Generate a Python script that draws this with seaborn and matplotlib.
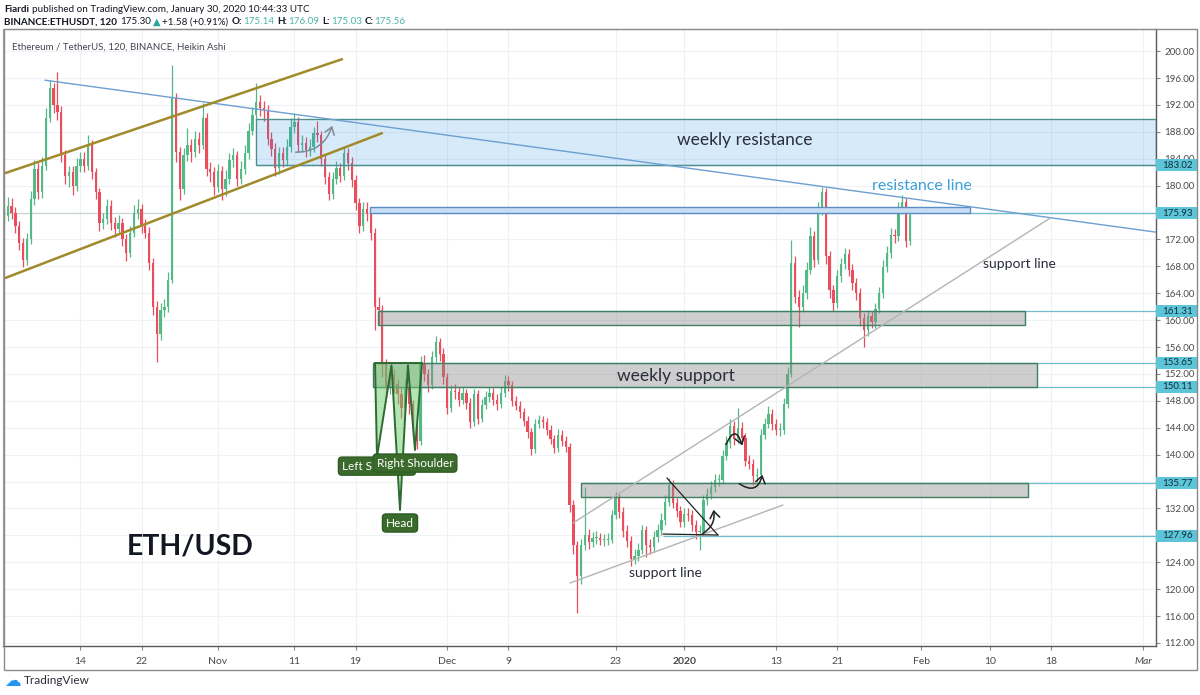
import numpy as np
import pandas as pd
import seaborn as sns
import matplotlib
matplotlib.use("Agg")
import matplotlib.pyplot as plt
import matplotlib.dates as mdates
from matplotlib.patches import Rectangle, Polygon, FancyArrowPatch

# Heikin Ashi closes / highs / lows (one candle per 12 h from Oct 4 2019)
close = [
    175.5, 177, 176, 174, 171.5, 169, 172, 178, 182.5, 179,
    183, 190, 194.5, 192, 191, 184.5, 181.5, 182, 180, 183,
    184, 183, 186, 182, 179, 174.5, 175, 177, 174.5, 173.5,
    174.5, 172, 170, 173, 176, 176.5, 174, 173, 168.5, 162,
    158, 161.5, 162, 166, 193, 185, 179.5, 184.5, 186, 185,
    187, 186, 190, 182.5, 182, 179.8, 182.2, 179.5, 181, 183.8,
    184.5, 181, 182.5, 184.8, 188.2, 190.5, 192.5, 191.5, 191.3, 187,
    185.5, 182.6, 184.8, 183.8, 185.8, 188.8, 189.5, 186, 186.4, 185.3,
    185.8, 187.8, 187.5, 184, 181.3, 178.7, 181, 182.6, 181.5, 184.8,
    183.4, 180.8, 177.4, 174, 176.6, 175.8, 173, 162, 161.5, 153.5,
    150, 152, 150.5, 149, 147, 150, 147.5, 144, 142, 153.5,
    152, 150.3, 154.5, 156.8, 155, 151.5, 147, 149.5, 149.3, 148.2,
    149.1, 147.7, 144.8, 149, 145.3, 147.4, 148.6, 149.1, 148.2, 147.5,
    149.2, 151, 150.3, 148, 147.3, 146.3, 145, 143.3, 140.8, 144.5,
    145.1, 144.8, 143.7, 142.3, 141, 143, 142, 141.2, 132.5, 126.5,
    122, 126.5, 128, 127, 127.6, 127.6, 127.3, 127.3, 127.3, 131,
    133.5, 131.5, 128.7, 127.2, 124.5, 125, 125.8, 128.8, 126.5, 126.3,
    127.7, 128.8, 130.3, 133, 135.5, 132.8, 131.6, 130, 131.2, 131,
    129.6, 128.5, 128.5, 133.2, 134.1, 135.2, 136.2, 136.2, 139.8, 141.8,
    144.2, 142.3, 144, 142.5, 139.1, 138.6, 136.8, 137, 143, 144.5,
    146, 144.5, 143.7, 143.7, 147.5, 152, 168.5, 163.5, 162, 164,
    167.5, 172.5, 169, 176.5, 179, 169.5, 164.5, 162.5, 166.5, 168.3,
    169.8, 167.5, 165.5, 164, 160.3, 158.5, 160.6, 159.7, 161.7, 164,
    167.9, 170, 172.7, 172.5, 176.6, 177.5, 171.8, 175.6,
]
high = [
    176.8, 178.3, 178.1, 176.8, 174.8, 172.2, 173.0, 179.2, 183.8, 183.4,
    184.2, 191.5, 195.7, 195.3, 196.9, 191.8, 185.3, 183.0, 182.9, 184.1,
    185.0, 185.0, 187.6, 186.8, 182.7, 179.6, 176.0, 178.0, 177.8, 175.4,
    175.6, 175.2, 172.8, 174.0, 177.2, 178.0, 177.3, 175.0, 173.8, 169.2,
    162.8, 162.6, 163.2, 167.2, 197.9, 193.8, 185.8, 185.6, 188.6, 187.0,
    188.2, 188.0, 192.3, 190.8, 183.5, 182.8, 183.2, 183.0, 182.3, 184.9,
    185.6, 185.2, 183.6, 186.0, 189.3, 191.7, 195.2, 193.5, 192.6, 192.0,
    188.0, 186.3, 185.8, 185.7, 187.0, 190.0, 190.8, 190.2, 187.5, 187.2,
    186.9, 188.8, 189.6, 188.2, 184.7, 182.0, 182.0, 183.6, 183.3, 185.9,
    185.6, 184.2, 181.6, 178.2, 177.6, 177.6, 176.5, 173.7, 163.4, 162.2,
    154.3, 153.2, 152.8, 151.3, 150.0, 151.2, 150.8, 148.2, 144.9, 154.6,
    154.8, 152.8, 155.4, 157.6, 157.4, 155.8, 152.2, 150.4, 150.5, 150.0,
    150.0, 149.8, 148.4, 149.8, 149.6, 148.3, 149.4, 150.0, 149.9, 149.0,
    150.0, 151.8, 151.7, 151.0, 148.8, 148.0, 147.0, 145.8, 144.0, 145.3,
    145.9, 145.8, 145.5, 144.4, 143.0, 143.8, 143.7, 142.8, 141.8, 133.2,
    127.2, 127.5, 135.2, 129.0, 128.5, 128.6, 128.4, 128.2, 128.3, 131.8,
    134.5, 134.2, 132.2, 129.5, 127.9, 125.9, 126.8, 129.6, 129.4, 127.4,
    128.6, 129.7, 131.3, 134.0, 136.6, 136.2, 133.6, 132.4, 132.1, 132.0,
    131.8, 130.3, 129.5, 134.0, 135.0, 136.1, 137.2, 137.2, 140.7, 142.8,
    145.3, 145.0, 147.0, 144.8, 143.2, 140.0, 139.4, 138.0, 143.8, 145.4,
    147.2, 146.8, 145.3, 144.7, 148.4, 153.0, 171.9, 169.5, 164.5, 165.2,
    168.6, 173.8, 173.3, 177.6, 179.8, 179.6, 170.3, 165.3, 167.5, 169.3,
    170.8, 170.6, 168.3, 166.3, 164.8, 161.0, 161.5, 161.4, 162.6, 165.0,
    168.9, 171.0, 173.7, 173.6, 177.6, 178.6, 178.2, 176.8,
]
low = [
    174.2, 174.8, 175.0, 173.0, 170.5, 167.9, 168.2, 171.3, 177.2, 178.0,
    178.2, 182.4, 189.5, 190.8, 189.8, 183.5, 180.2, 179.8, 178.6, 179.2,
    182.0, 182.1, 182.3, 181.0, 178.0, 173.2, 173.5, 174.3, 173.4, 172.4,
    172.8, 171.0, 168.8, 169.4, 172.4, 175.0, 173.0, 172.2, 167.5, 160.8,
    153.8, 157.0, 160.5, 161.2, 165.5, 183.5, 177.8, 178.8, 183.6, 183.5,
    184.2, 184.8, 185.4, 181.4, 180.5, 178.6, 179.0, 177.8, 178.5, 180.2,
    182.8, 180.0, 180.2, 181.8, 184.0, 187.5, 189.8, 190.3, 189.6, 186.0,
    184.4, 181.5, 181.8, 182.8, 183.0, 185.0, 187.8, 185.0, 185.0, 184.3,
    184.4, 185.0, 186.5, 183.0, 180.2, 177.8, 178.0, 180.2, 180.6, 180.8,
    182.4, 179.8, 176.4, 172.9, 173.3, 174.8, 171.9, 158.5, 159.5, 151.5,
    148.5, 149.0, 149.2, 147.5, 145.5, 146.2, 146.0, 142.6, 140.8, 141.5,
    151.0, 149.3, 149.7, 153.8, 154.0, 150.5, 146.0, 146.4, 148.3, 147.3,
    147.5, 146.8, 144.0, 144.3, 144.6, 144.8, 146.8, 147.9, 147.4, 146.7,
    146.9, 148.6, 149.5, 147.2, 146.6, 145.5, 144.2, 142.5, 140.0, 140.2,
    143.9, 144.0, 143.0, 141.6, 140.3, 140.4, 141.3, 140.4, 131.5, 125.3,
    116.4, 120.8, 125.8, 126.0, 126.3, 126.7, 126.5, 126.4, 126.5, 126.8,
    130.4, 130.6, 127.8, 126.3, 123.5, 123.7, 124.2, 125.2, 124.8, 125.2,
    125.6, 127.0, 128.1, 129.6, 132.4, 132.0, 130.8, 129.2, 129.3, 130.1,
    128.7, 127.5, 125.8, 128.0, 132.5, 133.4, 134.5, 135.3, 135.6, 139.2,
    141.0, 141.5, 141.7, 141.6, 138.3, 137.8, 135.5, 135.9, 136.5, 142.3,
    143.9, 143.7, 142.9, 142.8, 143.1, 147.0, 151.5, 162.5, 159.0, 161.2,
    163.2, 166.8, 167.9, 168.3, 175.6, 168.4, 163.3, 161.4, 161.8, 165.7,
    167.6, 166.6, 164.5, 163.0, 159.2, 156.0, 157.7, 158.8, 158.9, 161.0,
    163.3, 167.2, 169.3, 171.5, 171.8, 175.8, 170.9, 171.2,
]

price_ticks = list(range(112, 201, 4))
date_ticks = ["2019-10-14", "2019-10-22", "2019-11-01", "2019-11-11", "2019-11-19",
              "2019-12-01", "2019-12-09", "2019-12-23", "2020-01-01", "2020-01-13",
              "2020-01-21", "2020-02-01", "2020-02-10", "2020-02-18", "2020-03-01"]
date_labels = ["14", "22", "Nov", "11", "19", "Dec", "9", "23", "2020",
               "13", "21", "Feb", "10", "18", "Mar"]
levels = [183.02, 175.93, 161.31, 153.65, 150.11, 135.77, 127.96]

UP, DOWN = "#53b987", "#eb4d5c"
DARK = "#131722"

sns.set_theme(style="white")
plt.rcParams["font.family"] = ["Lato", "DejaVu Sans"]

W, H = 1200, 695
fig = plt.figure(figsize=(W / 100, H / 100), dpi=100)
ax = fig.add_axes([3 / W, (H - 646) / H, (1156 - 3) / W, (646 - 29) / H])

base = mdates.date2num(pd.Timestamp("2019-10-01"))


def day(d):
    return base + d


# candles
df = pd.DataFrame({"time": pd.date_range("2019-10-04", periods=len(close), freq="12h"),
                   "close": close, "high": high, "low": low})
df["open"] = df["close"].shift(1).fillna(df["close"])
x = mdates.date2num(df["time"])
o, c = df["open"].to_numpy(), df["close"].to_numpy()
cols = np.where(c >= o, UP, DOWN)
ax.vlines(x, df["low"], df["high"], colors=cols, linewidth=0.9, zorder=2)
ax.bar(x, np.maximum(np.abs(c - o), 0.15), bottom=np.minimum(o, c), width=0.3,
       color=cols, linewidth=0, zorder=2)

# grid
for v in price_ticks:
    ax.axhline(v, color="#eef1f5", lw=0.8, zorder=0)
tick_x = [mdates.date2num(pd.Timestamp(s)) for s in date_ticks]
for v in tick_x:
    ax.axvline(v, color="#eef1f5", lw=0.8, zorder=0)

x_left, x_right = day(2.88), day(153.7)

# horizontal levels
ax.hlines(175.93, x_left, x_right, color="#c9d3d6", lw=0.9, zorder=1)
level_start = {183.02: 36.0, 175.93: 129.4, 161.31: 51.9, 153.65: 51.3,
               150.11: 51.3, 135.77: 78.5, 127.96: 89.2}
for lev in levels:
    ax.hlines(lev, day(level_start[lev]), x_right, color="#6fbfcf", lw=0.9, zorder=3)

# boxes
ax.add_patch(Rectangle((day(36.0), 183.02), x_right - day(36.0), 189.9 - 183.02,
                       fc=(0.13, 0.55, 0.9, 0.18), ec="#4f8f90", lw=1, zorder=3))
ax.add_patch(Rectangle((day(50.9), 176.0), day(129.4) - day(50.9), 0.8,
                       fc="#c9def4", ec="#5b8fc4", lw=1, zorder=3))
for d0, d1, lo, hi in [(51.9, 136.6, 159.3, 161.31), (51.3, 138.1, 150.11, 153.65),
                       (78.5, 137.0, 133.7, 135.77)]:
    ax.add_patch(Rectangle((day(d0), lo), day(d1) - day(d0), hi - lo,
                           fc=(0.55, 0.55, 0.55, 0.42), ec="#3f8060", lw=1, zorder=3))

# trend lines
def trend(d0, p0, d1, p1, color, lw):
    sns.lineplot(x=[day(d0), day(d1)], y=[p0, p1], ax=ax, color=color,
                 linewidth=lw, zorder=4)

trend(8.37, 195.69, 153.7, 173.09, "#6d9fd1", 1.0)
trend(3.14, 181.86, 47.22, 198.81, "#a08a2a", 1.8)
trend(3.14, 166.26, 52.45, 187.81, "#a08a2a", 1.8)
trend(77.44, 129.84, 139.83, 175.17, "#b4b4b4", 1.0)
trend(77.04, 120.92, 104.9, 132.51, "#b4b4b4", 1.0)
trend(89.73, 136.53, 96.4, 128.05, "#222222", 0.9)
trend(89.21, 128.2, 96.4, 128.05, "#222222", 0.9)

# head and shoulders
hs = [(51.54, 153.62), (51.80, 139.65), (53.70, 153.3), (54.81, 131.77),
      (55.85, 153.3), (56.77, 140.69), (57.68, 153.62)]
hs = [(day(a), b) for a, b in hs]
for k in (0, 2, 4):
    ax.add_patch(Polygon(hs[k:k + 3], closed=True, fc=(0.42, 0.8, 0.42, 0.5),
                         ec="none", zorder=4))
ax.plot([p[0] for p in hs], [p[1] for p in hs], color="#2e6b30", lw=1.4, zorder=5)
ax.plot([hs[0][0], hs[6][0]], [hs[0][1], hs[6][1]], color="#2e6b30", lw=1.4, zorder=5)
lbl = dict(boxstyle="round,pad=0.3", fc="#3b6b2c", ec="#2d5a22")
ax.text(day(51.8), 138.3, "Left Shoulder", fontsize=8.5, color="white", ha="center",
        va="center", bbox=lbl, zorder=6)
ax.text(day(56.77), 138.75, "Right Shoulder", fontsize=8.5, color="white", ha="center",
        va="center", bbox=lbl, zorder=7)
ax.text(day(54.81), 129.84, "Head", fontsize=8.5, color="white", ha="center",
        va="center", bbox=lbl, zorder=6)

# hand drawn arrows
def arrow(a, b, rad, color):
    ax.add_patch(FancyArrowPatch((day(a[0]), a[1]), (day(b[0]), b[1]),
                                 connectionstyle=f"arc3,rad={rad}",
                                 arrowstyle="->,head_length=0.5,head_width=0.35",
                                 mutation_scale=10, color=color, lw=1.1, zorder=6))

arrow((40.8, 184.99), (46.04, 189.3), 0.4, "#7d8b99")
arrow((97.32, 141.13), (99.67, 140.98), -1.5, "#222222")
arrow((98.89, 135.93), (102.29, 137.42), 0.8, "#222222")
arrow((94.05, 128.05), (95.75, 132.21), 0.4, "#222222")

# annotation texts
ax.text(day(99.93), 186.77, "weekly resistance", fontsize=12.5, color="#2a2e39",
        ha="center", va="center", zorder=6)
ax.text(day(90.9), 151.69, "weekly support", fontsize=12.5, color="#2a2e39",
        ha="center", va="center", zorder=6)
ax.text(day(123.1), 179.93, "resistance line", fontsize=11.5, color="#3ea0d8",
        ha="center", va="center", zorder=6)
ax.text(day(135.9), 168.34, "support line", fontsize=10, color="#2a2e39",
        ha="center", va="center", zorder=6)
ax.text(day(89.5), 122.4, "support line", fontsize=10, color="#2a2e39",
        ha="center", va="center", zorder=6)
ax.text(day(27.3), 126.4, "ETH/USD", fontsize=20.5, fontweight="bold", color=DARK,
        ha="center", va="center", zorder=6)
ax.text(9 / 1153, 0.971, "Ethereum / TetherUS, 120, BINANCE, Heikin Ashi",
        transform=ax.transAxes, fontsize=7, color="#434651", va="center")

# axes
ax.set_xlim(x_left, x_right)
ax.set_ylim(111.55, 203.3)
ax.yaxis.tick_right()
ax.set_yticks(price_ticks)
ax.set_yticklabels([f"{v:.2f}" for v in price_ticks])
ax.set_xticks(tick_x)
ax.set_xticklabels(date_labels)
ax.tick_params(axis="y", right=True, left=False, direction="out", length=3, width=0.8,
               color="#888888", labelsize=7, labelcolor="#4a4a4a", pad=3)
ax.tick_params(axis="x", bottom=True, direction="out", length=3, width=0.8,
               color="#888888", labelsize=7.5, labelcolor="#4a4a4a", pad=5)
for t in ax.get_xticklabels():
    if t.get_text() == "2020":
        t.set_fontweight("bold")
    if t.get_text() == "Mar":
        t.set_fontstyle("italic")
for s in ("left", "top"):
    ax.spines[s].set_color("#a0a0a0")
    ax.spines[s].set_linewidth(0.8)
for s in ("right", "bottom"):
    ax.spines[s].set_color("#5a5a5a")
    ax.spines[s].set_linewidth(1.0)
ax.set_xlabel("")
ax.set_ylabel("")

# price labels on the scale
ytr = ax.get_yaxis_transform()
for lev in levels:
    ax.add_patch(Rectangle((1.0, lev - 0.9), 41 / 1153, 1.8, transform=ytr,
                           fc="#5ec4d8", ec="none", clip_on=False, zorder=8))
    ax.text(1 + 6 / 1153, lev, f"{lev:.2f}", transform=ytr, fontsize=7, color="#0f2f3a",
            ha="left", va="center", clip_on=False, zorder=9)

# outer frame
fig.patches.append(Rectangle((4 / W, (H - 670) / H), 1193 / W, 641 / H,
                             transform=fig.transFigure, fill=False, ec="#8a8a8a", lw=1))

# header rows
renderer = fig.canvas.get_renderer()


def text_row(x_px, y_px, parts, size):
    for s, color, weight, gap in parts:
        t = fig.text(x_px / W, 1 - y_px / H, s, color=color, fontweight=weight,
                     fontsize=size, ha="left", va="center")
        x_px += t.get_window_extent(renderer=renderer).width + gap


TEAL = "#4cb5ab"
text_row(4, 9, [("Fiardi", DARK, "bold", 3),
                ("published on TradingView.com, January 30, 2020 10:44:33 UTC", DARK, "normal", 0)], 7.1)
text_row(4, 22, [("BINANCE:ETHUSDT, 120", DARK, "bold", 3), ("175.30", DARK, "normal", 2),
                 ("▲", "#26a69a", "normal", 2), ("+1.58 (+0.91%)", DARK, "normal", 3),
                 ("O:", DARK, "bold", 1), ("175.14", TEAL, "normal", 3),
                 ("H:", DARK, "bold", 1), ("176.09", TEAL, "normal", 3),
                 ("L:", DARK, "bold", 1), ("175.03", TEAL, "normal", 3),
                 ("C:", DARK, "bold", 1), ("175.56", TEAL, "normal", 0)], 7.1)

# footer logo
fig.text(4 / W, 1 - 681 / H, "☁", fontsize=12, color="#2196f3", family="DejaVu Sans",
         ha="left", va="center")
fig.text(24 / W, 1 - 681 / H, "TradingView", fontsize=8.5, color="#2a2e39",
         ha="left", va="center")

fig.savefig("out.png", dpi=100)
